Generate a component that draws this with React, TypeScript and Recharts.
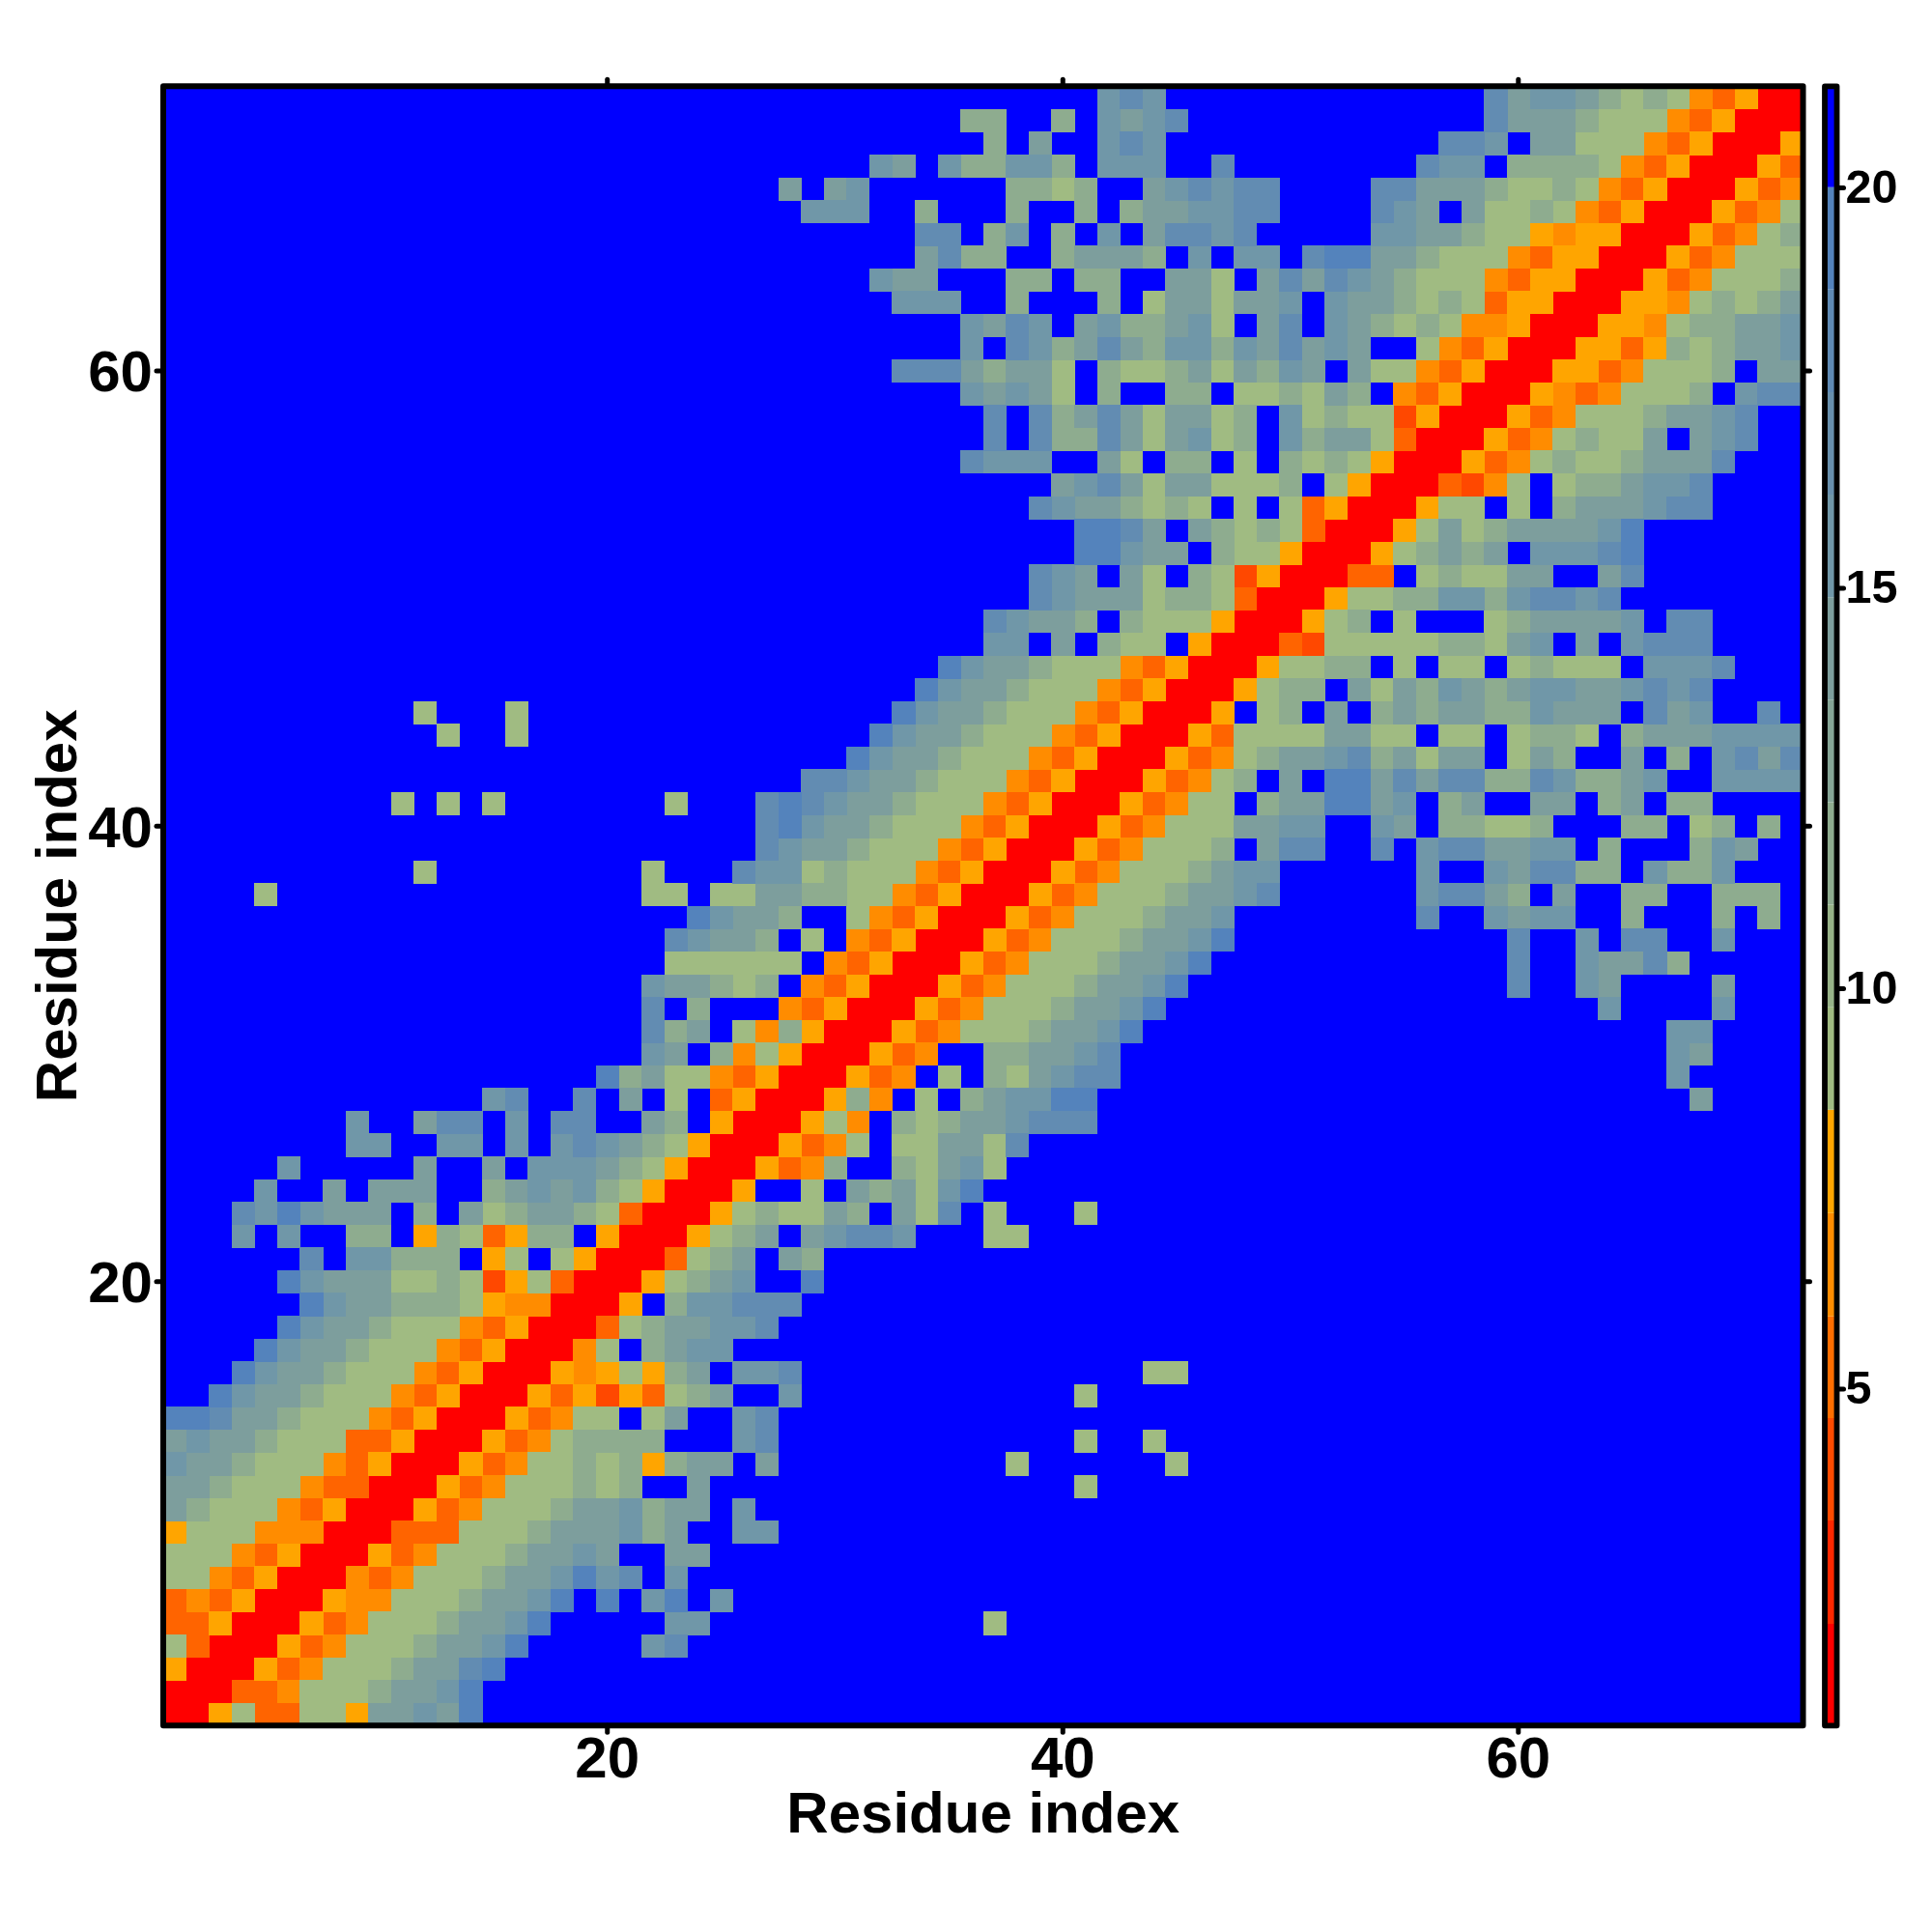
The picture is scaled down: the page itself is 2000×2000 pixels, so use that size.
import React from "react";
import { ScatterChart, Scatter, BarChart, Bar, XAxis, YAxis, ReferenceArea } from "recharts";

// residue contact map: symmetric, so each row starts on the diagonal and runs right
// '.' = beyond cutoff (blue), short rows continue as '.'
const rowsNear = [
  "RRYaDDaaYccdcf",
  "RRDDOaaabccdf",
  "RRYDOaaabccef",
  "RRYDOaaabccdf.....de",
  "RRYDOaaabccdf.....dd............a",
  "RRYOOaaabccdf.f.df.d",
  "RRODOaaabccdfde.d.",
  "RRYDOaaabccdc..cc",
  "RRDDDaaabcccdbc..dd",
  "RRYDOaaabccdbcc.d",
  "RRYDOaaabab..c................a",
  "RRYDOaababYbcc.c..........a......a",
  "RRYDOabbbb...de.............a..a",
  "RRYDOaa.ac..de",
  "RRYDYTYDabc..d............a",
  "RRYOYaYbc.dde...............aa",
  "RROa.bcdd",
  "RRDabccdde",
  "RRY.bddeee",
  "RRYabcd..f",
  "RRDabc.cb",
  "RRYabc.cdeed...aa",
  "RRYabaacb.cae.a...a",
  "RRY..a.cbcadf",
  "RRYDOb..bacda",
  "RRYDOa.aaccae",
  "RRYaO.babccdeee",
  "RRYbO.a.bcddff",
  "RRYDO.a.bacdee",
  "RRYDO..bbccde",
  "RRYDOaaabccdf",
  "RRYDOaaabccdf",
  "RRYDOaaabccdf",
  "RRYDOaaabccdf",
  "RRYDOaaabccdf",
  "RRYDOaaabccd",
  "RRYDOaaabccd",
  "RRYDOaaabcd",
  "RRYDOaaab.",
  "RRYDOaaac",
  "RRYDOaa.",
  "RRYDOab",
  "RRYDOa",
  "RRYDa",
  "RRY.",
  "RRY",
  "RR",
  "R",
];

// rows 25-48, columns 49-72
const rowsFar = [
  "",
  "",
  "",
  "...................c....",
  "..................d.....",
  "..................dc....",
  "..................dd....",
  "...............d....d...",
  "...........e..dc....c...",
  "...........e..dcceb.....",
  "...........e..d.ee..d...",
  ".......e..dcdd..b...b.b.",
  "e......deecb.c..bb..bbb.",
  "d......d..dceebb.dbbd...",
  "cee..e.deeccdd.b...bdc..",
  "cdd..dc.bbaab...bb.ab.b.",
  "bccffcd.bc..cc.bc.bb....",
  ".c.ffceceebbedbbcd..dddd",
  "bccdebcacc.acb..c.b.dece",
  "aaaccaa.aa.abba.bcccdddd",
  "ab.c.bcbccbbdccc.ecd..e.",
  "abb.cacbdcbcddccdede",
  "Yaabb.a.aa.abaaa.ddde",
  "RDTaaaaabbacd.c.deee",
];

// rows 49-72, from the diagonal
const rowsTop = [
  "RRYab.a...abccccd.ee",
  "RRYaabbddbdeede",
  "RRDD.abaacc..ce",
  "RRYabcbc.dddef",
  "RRYacabccccdf",
  "RRYaa.a.bcccdee",
  "RRDTOa.abbcdde",
  "RRYDOabaabccce",
  "RRYDOabaac.cde",
  "RRYDOaaabccde",
  "RRYODOaaab.dee",
  "RRYYDOaaab.cc",
  "RRYYDYbabccd",
  "RRYYOabbccd",
  "RRYYOababc",
  "RRYDOaaab",
  "RRYDOaaa",
  "RRYDOab",
  "RRYDOa",
  "RRYDO",
  "RRYD",
  "RRY",
  "RR",
  "R",
];

const levels = [".", "R", "T", "D", "O", "Y", "a", "b", "c", "d", "e", "f"];
const levelColors = ["#0000ff", "#ff0000", "#ff4800", "#ff6400", "#ff8c00", "#ffa500", "#a0bb82", "#8eac8f", "#7d9e9d", "#7097a8", "#628cb2", "#5483bc"];

const axisTicks = [20, 40, 60];
const barTicks = [5, 10, 15, 20];
const barEdges = [2.07, 3.36, 4.64, 5.91, 7.2, 8.49, 9.77, 11.05, 12.33, 13.61, 14.89, 16.17, 17.45, 18.73, 20.01, 21.27];
const barColors = ["#ff0000", "#ff2800", "#ff4b00", "#ff6e00", "#ff8c00", "#ffa500", "#a0bb82", "#97b388", "#8eac8f", "#85a596", "#7d9e9d", "#7097a8", "#6890ad", "#5f8ab4", "#5483bc", "#0000ff"];

const N = 72;
const plotW = 1697.5;
const plotH = 1697;
const cellW = plotW / N;
const cellH = plotH / N;
const plotMargin = { top: 89.3, right: 133.5, bottom: 213.7, left: 169 };

const tickFont = { fontSize: 60, fontWeight: "bold", fontFamily: "Liberation Sans", fill: "#000" };
const barFont = { fontSize: 48.5, fontWeight: "bold", fontFamily: "Liberation Sans", fill: "#000", dy: -2 };
const tickStroke = { stroke: "#000", strokeWidth: 5, strokeLinecap: "round" };
const noLabel = () => <g />;

function upperCell(row: number, col: number) {
  // row <= col
  if (row <= 48) {
    if (col <= 48) return rowsNear[row - 1][col - row] ?? ".";
    if (row >= 25) return rowsFar[row - 25][col - 49] ?? ".";
    return ".";
  }
  return rowsTop[row - 49][col - row] ?? ".";
}

const cells: Record<string, { x: number; y: number }[]> = {};
levels.forEach((l) => (cells[l] = []));
for (let y = 1; y <= N; y++) {
  for (let x = 1; x <= N; x++) {
    const l = x >= y ? upperCell(y, x) : upperCell(x, y);
    cells[l].push({ x, y });
  }
}

const barRow: Record<string, any> = { name: "dist" };
barEdges.forEach((e, i) => (barRow["b" + i] = i === 0 ? e : e - barEdges[i - 1]));

const domain: [number, number] = [0.5, 72.5];
const barDomain: [number, number] = [0.8, 21.27];
const layer = { position: "absolute", left: 0, top: 0 } as const;
const barMargin = { top: 89.3, right: 98.5, bottom: 213.7, left: 1889 };

export default function App() {
  return (
    <div style={{ ...layer, width: 2000, height: 2000, background: "#fff" }}>
      {/* cells */}
      <div style={layer}>
        <ScatterChart width={2000} height={2000} margin={plotMargin}>
          <XAxis hide dataKey="x" type="number" domain={domain} />
          <YAxis hide dataKey="y" type="number" domain={domain} />
          {levels.map((l, i) => (
            <Scatter
              key={l}
              data={cells[l]}
              isAnimationActive={false}
              shape={(p: any) => (
                <rect x={p.cx - cellW / 2} y={p.cy - cellH / 2} width={cellW + 0.5} height={cellH + 0.5} fill={levelColors[i]} shapeRendering="crispEdges" />
              )}
            />
          ))}
        </ScatterChart>
      </div>
      {/* frame, ticks and labels go on top of the cells; the empty series keep the axes alive */}
      <div style={layer}>
        <ScatterChart width={2000} height={2000} margin={{ top: 0, right: 0, bottom: 0, left: 0 }}>
          <XAxis
            xAxisId="b"
            dataKey="x"
            type="number"
            domain={domain}
            ticks={axisTicks}
            height={213.7}
            axisLine={false}
            tickLine={tickStroke}
            tickSize={7}
            tickMargin={4}
            tick={tickFont}
            label={{ value: "Residue index", position: "insideBottom", offset: 103, ...tickFont }}
          />
          <XAxis xAxisId="t" dataKey="x" orientation="top" type="number" domain={domain} ticks={axisTicks} height={89.3} axisLine={false} tickLine={tickStroke} tickSize={7} tick={noLabel} />
          <YAxis
            yAxisId="l"
            dataKey="y"
            type="number"
            domain={domain}
            ticks={axisTicks}
            width={169}
            axisLine={false}
            tickLine={tickStroke}
            tickSize={7}
            tickMargin={4}
            tick={tickFont}
            label={{ value: "Residue index", angle: -90, position: "insideLeft", offset: 58, ...tickFont, style: { textAnchor: "middle" } }}
          />
          <YAxis yAxisId="r" dataKey="y" orientation="right" type="number" domain={domain} ticks={axisTicks} width={133.5} axisLine={false} tickLine={tickStroke} tickSize={7} tick={noLabel} />
          <Scatter xAxisId="b" yAxisId="l" data={cells.R} isAnimationActive={false} shape={() => null} />
          <Scatter xAxisId="t" yAxisId="r" data={cells.R} isAnimationActive={false} shape={() => null} />
          <ReferenceArea xAxisId="b" yAxisId="l" x1={0.5} x2={72.5} y1={0.5} y2={72.5} fill="none" fillOpacity={0} stroke="#000" strokeWidth={6} strokeLinejoin="round" ifOverflow="visible" />
        </ScatterChart>
      </div>
      {/* colour key */}
      <div style={layer}>
        <BarChart width={2000} height={2000} data={[barRow]} barCategoryGap={0} barGap={0} margin={barMargin}>
          <XAxis hide dataKey="name" />
          <YAxis hide type="number" domain={barDomain} allowDataOverflow />
          {barColors.map((c, i) => (
            <Bar key={c} dataKey={"b" + i} stackId="bar" fill={c} isAnimationActive={false} />
          ))}
        </BarChart>
      </div>
      <div style={layer}>
        <BarChart width={2000} height={2000} data={[barRow]} margin={{ ...barMargin, right: 0 }}>
          <XAxis hide dataKey="name" />
          <YAxis
            orientation="right"
            type="number"
            domain={barDomain}
            allowDataOverflow
            ticks={barTicks}
            width={98.5}
            axisLine={false}
            tickLine={tickStroke}
            tickSize={7}
            tickMargin={2}
            tick={barFont}
            interval={0}
          />
          <ReferenceArea y1={barDomain[0]} y2={barDomain[1]} fill="none" fillOpacity={0} stroke="#000" strokeWidth={5.8} strokeLinejoin="round" ifOverflow="visible" />
        </BarChart>
      </div>
    </div>
  );
}
